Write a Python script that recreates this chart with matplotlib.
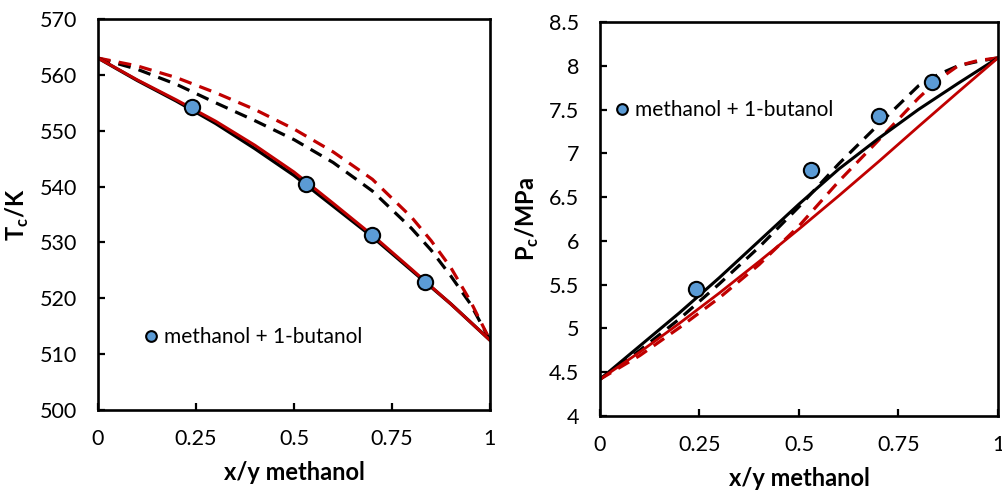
import matplotlib
matplotlib.use("Agg")
import matplotlib.pyplot as plt
from matplotlib.ticker import FuncFormatter

plt.rcParams['font.family'] = ['Lato', 'DejaVu Sans']
plt.rcParams['mathtext.fontset'] = 'custom'
plt.rcParams['mathtext.bf'] = 'Lato:bold'
plt.rcParams['mathtext.rm'] = 'Lato'

# ---- experimental points (methanol + 1-butanol) ----
x_exp = [0.24, 0.53, 0.70, 0.835]
tc_exp = [554.2, 540.5, 531.3, 523.0]
pc_exp = [5.45, 6.81, 7.43, 7.81]

# ---- model curves ----
x_line = [0, 0.1, 0.2, 0.3, 0.4, 0.5, 0.6, 0.7, 0.8, 0.9, 1.0]
x_dash = [0, 0.1, 0.2, 0.3, 0.4, 0.5, 0.6, 0.7, 0.8, 0.85, 0.9, 0.95, 1.0]

tc_black = [563.0, 559.0, 555.3, 551.3, 546.8, 542.0, 536.5, 531.0, 525.0, 519.0, 512.5]
tc_red = [563.0, 559.1, 555.5, 551.7, 547.4, 542.6, 537.0, 531.3, 525.2, 519.0, 512.5]
tc_black_dash = [563.0, 561.0, 558.3, 555.0, 551.8, 548.4, 544.3, 539.2, 532.5, 528.6, 524.0, 519.0, 512.5]
tc_red_dash = [563.0, 561.6, 559.5, 556.8, 553.8, 550.3, 546.2, 541.3, 534.5, 530.3, 525.5, 519.5, 512.5]

pc_black = [4.42, 4.80, 5.18, 5.58, 6.00, 6.42, 6.82, 7.17, 7.50, 7.80, 8.09]
pc_red = [4.42, 4.73, 5.06, 5.405, 5.765, 6.135, 6.515, 6.905, 7.305, 7.70, 8.09]
pc_black_dash = [4.42, 4.75, 5.11, 5.51, 5.93, 6.39, 6.88, 7.33, 7.77, 7.90, 8.00, 8.05, 8.09]
pc_red_dash = [4.42, 4.69, 5.01, 5.35, 5.73, 6.17, 6.68, 7.15, 7.63, 7.84, 8.00, 8.06, 8.09]

x_ticks = [0, 0.25, 0.5, 0.75, 1]
tc_ticks = [500, 510, 520, 530, 540, 550, 560, 570]
pc_ticks = [4, 4.5, 5, 5.5, 6, 6.5, 7, 7.5, 8, 8.5]

red = '#C00000'
blue = '#5B9BD5'
dash = (4, 2.6)

fig = plt.figure(figsize=(10.02, 4.95), dpi=100)
ax1 = fig.add_axes([0.0978, 0.1717, 0.3912, 0.790])
ax2 = fig.add_axes([0.5988, 0.1596, 0.3972, 0.796])


def style(ax, yticks):
    for s in ax.spines.values():
        s.set_linewidth(1.9)
        s.set_color('black')
    ax.set_xlim(0, 1)
    ax.set_ylim(yticks[0], yticks[-1])
    ax.set_xticks(x_ticks)
    ax.set_yticks(yticks)
    ax.xaxis.set_major_formatter(FuncFormatter(lambda v, p: '%g' % v))
    ax.yaxis.set_major_formatter(FuncFormatter(lambda v, p: '%g' % v))
    ax.tick_params(direction='in', length=5, width=1.6, labelsize=15.5, pad=14,
                   top=False, right=False, colors='black')
    ax.tick_params(axis='y', pad=15)
    ax.set_xlabel('x/y methanol', fontsize=17, fontweight='bold', labelpad=8)


# left: critical temperature
ax1.plot(x_dash, tc_black_dash, color='black', lw=2.3, dashes=dash)
ax1.plot(x_dash, tc_red_dash, color=red, lw=2.3, dashes=dash)
ax1.plot(x_line, tc_black, color='black', lw=2.4)
ax1.plot(x_line, tc_red, color=red, lw=2.2)
ax1.plot(x_exp, tc_exp, 'o', color=blue, mec='black', mew=1.5, ms=11,
         label='methanol + 1-butanol', zorder=5)
style(ax1, tc_ticks)
ax1.set_ylabel('T$_\\mathbf{c}$/K', fontsize=17, fontweight='bold', labelpad=6)
ax1.legend(loc='center left', bbox_to_anchor=(0.108, 0.187), frameon=False,
           fontsize=15, handlelength=1, handletextpad=0.15, borderpad=0,
           borderaxespad=0, markerscale=0.7)

# right: critical pressure
ax2.plot(x_dash, pc_black_dash, color='black', lw=2.3, dashes=dash)
ax2.plot(x_dash, pc_red_dash, color=red, lw=2.3, dashes=dash)
ax2.plot(x_line, pc_black, color='black', lw=2.2)
ax2.plot(x_line, pc_red, color=red, lw=2.0)
ax2.plot(x_exp, pc_exp, 'o', color=blue, mec='black', mew=1.5, ms=11,
         label='methanol + 1-butanol', zorder=5)
style(ax2, pc_ticks)
ax2.set_ylabel('P$_\\mathbf{c}$/MPa', fontsize=17, fontweight='bold', labelpad=6)
ax2.legend(loc='center left', bbox_to_anchor=(0.028, 0.777), frameon=False,
           fontsize=15, handlelength=1, handletextpad=0.15, borderpad=0,
           borderaxespad=0, markerscale=0.7)

fig.savefig('out.png', dpi=100)
